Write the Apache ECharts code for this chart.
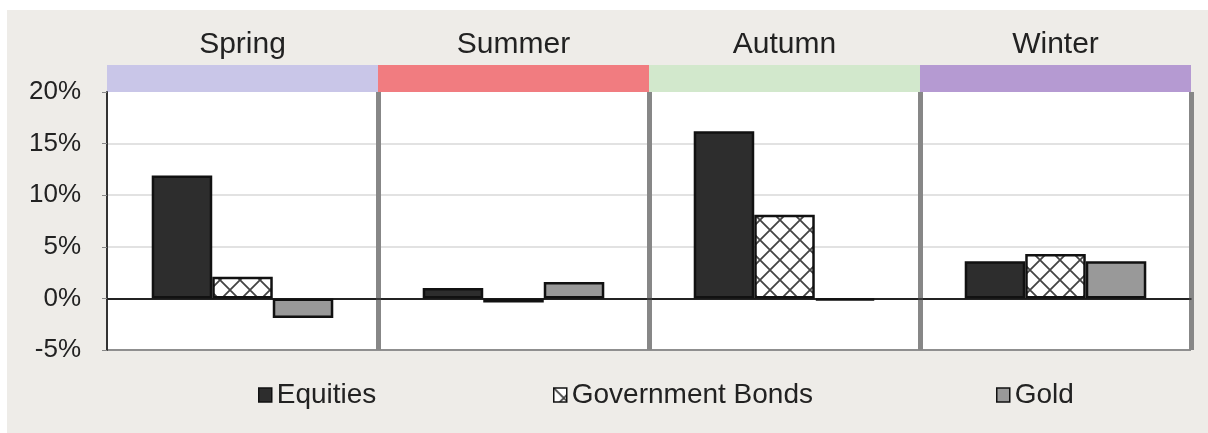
<!DOCTYPE html>
<html>
<head>
<meta charset="utf-8">
<script src="https://cdn.jsdelivr.net/npm/echarts@6/dist/echarts.min.js"></script>
<style>
  html, body { margin: 0; padding: 0; background: #ffffff; }
  #bg { position: absolute; left: 7px; top: 10px; right: 0; bottom: 0; background: #eeece8; }
  #c { position: absolute; left: 0; top: 0; width: 1208px; height: 433px; }
</style>
</head>
<body>
<div id="bg"></div>
<div id="c"></div>
<script>
// ---- data ----
var seasons = ['Spring', 'Summer', 'Autumn', 'Winter'];
var seriesNames = ['Equities', 'Government Bonds', 'Gold'];
var equities = [11.9, 1.0, 16.2, 3.6];
var governmentBonds = [2.1, -0.4, 8.1, 4.3];
var gold = [-1.9, 1.6, -0.2, 3.6];
var yTicks = { min: -5, max: 20, interval: 5 };
var headerColors = ['#c9c6e8', '#f17c80', '#d2e8cc', '#b59ad2'];

// ---- crosshatch pattern for bonds ----
function makeHatch() {
  var s = 20;
  var cv = document.createElement('canvas');
  cv.width = s; cv.height = s;
  var g = cv.getContext('2d');
  g.fillStyle = '#ffffff';
  g.fillRect(0, 0, s, s);
  g.strokeStyle = '#444444';
  g.lineWidth = 1.8;
  g.beginPath();
  g.moveTo(0, 0); g.lineTo(s, s);
  g.moveTo(s, 0); g.lineTo(0, s);
  g.stroke();
  return cv;
}
var hatch = makeHatch();

var FONT = 'Liberation Sans, Arial, sans-serif';
var chart = echarts.init(document.getElementById('c'), null, { renderer: 'canvas' });

var barBorder = { borderColor: '#111111', borderWidth: 2.5 };
var legendText = { fontSize: 28, color: '#222222', fontFamily: FONT };

chart.setOption({
  backgroundColor: 'transparent',
  animation: false,
  grid: [
    { left: 107, top: 92, width: 1084, height: 258, show: true, backgroundColor: '#ffffff', borderWidth: 0 },
    { left: 107, top: 65, width: 1084, height: 27 }
  ],
  xAxis: [
    {
      type: 'category', gridIndex: 0, data: seasons,
      axisLabel: { show: false },
      axisTick: { show: false },
      axisLine: { onZero: true, lineStyle: { color: '#222222', width: 1.5 } },
      splitLine: { show: true, showMinLine: false, lineStyle: { color: '#878787', width: 5 } }
    },
    {
      type: 'category', gridIndex: 1, data: seasons, position: 'top',
      axisLine: { show: false },
      axisTick: { show: false },
      axisLabel: { show: true, margin: 5, fontSize: 30, color: '#222222', fontFamily: FONT },
      splitArea: { show: true, areaStyle: { color: headerColors } }
    }
  ],
  yAxis: [
    {
      type: 'value', gridIndex: 0, min: yTicks.min, max: yTicks.max, interval: yTicks.interval,
      axisLine: { show: true, lineStyle: { color: '#333333', width: 2 } },
      axisTick: { show: true, length: 5, lineStyle: { color: '#888888' } },
      axisLabel: { formatter: '{value}%', fontSize: 26, color: '#222222', fontFamily: FONT, margin: 26 },
      splitLine: { show: true, showMaxLine: false,
        lineStyle: { color: ['#8f8f8f', '#2a2a2a', '#e2e2e2', '#e2e2e2', '#e2e2e2'], width: 2 } }
    },
    { type: 'value', gridIndex: 1, min: 0, max: 1, show: false }
  ],
  legend: [
    { data: [seriesNames[0]], left: 253, top: 376, itemWidth: 13, itemHeight: 14, icon: 'rect',
      textStyle: legendText, itemStyle: { borderWidth: 1.5 } },
    { data: [seriesNames[1]], left: 548, top: 376, itemWidth: 13, itemHeight: 14, icon: 'rect',
      textStyle: legendText, itemStyle: { borderWidth: 1.5 } },
    { data: [seriesNames[2]], left: 991, top: 376, itemWidth: 13, itemHeight: 14, icon: 'rect',
      textStyle: legendText, itemStyle: { borderWidth: 1.5 } }
  ],
  series: [
    { name: seriesNames[0], type: 'bar', xAxisIndex: 0, yAxisIndex: 0, data: equities,
      barGap: '0%', barCategoryGap: '33%',
      itemStyle: Object.assign({ color: '#2d2d2d' }, barBorder) },
    { name: seriesNames[1], type: 'bar', xAxisIndex: 0, yAxisIndex: 0, data: governmentBonds,
      barGap: '0%', barCategoryGap: '33%',
      itemStyle: Object.assign({ color: { image: hatch, repeat: 'repeat' } }, barBorder) },
    { name: seriesNames[2], type: 'bar', xAxisIndex: 0, yAxisIndex: 0, data: gold,
      barGap: '0%', barCategoryGap: '33%',
      itemStyle: Object.assign({ color: '#999999' }, barBorder) }
  ]
});
</script>
</body>
</html>
